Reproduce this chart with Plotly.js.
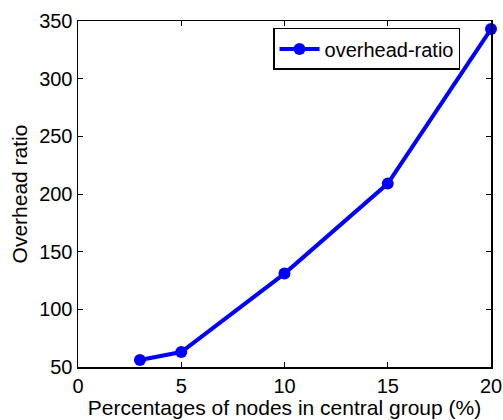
<!DOCTYPE html>
<html>
<head>
<meta charset="utf-8">
<script src="https://cdn.plot.ly/plotly-3.0.1.min.js"></script>
<style>html,body{margin:0;padding:0;background:#fff}#chart{width:503px;height:420px}</style>
</head>
<body>
<div id="chart"></div>
<script>
var xValues = [3, 5, 10, 15, 20];
var overheadRatio = [56, 63, 131, 209, 343];
var xTicks = [0, 5, 10, 15, 20];
var yTicks = [50, 100, 150, 200, 250, 300, 350];

var font = "Liberation Sans, Arial, sans-serif";
var trace = {
  x: xValues, y: overheadRatio, type: 'scatter', mode: 'lines+markers',
  name: 'overhead-ratio',
  line: {color: '#0000ff', width: 4},
  marker: {color: '#0000ff', size: 12, symbol: 'circle'},
  cliponaxis: false
};
var axisCommon = {
  showline: true, linecolor: '#000', linewidth: 1.5, mirror: 'ticks',
  ticks: 'inside', ticklen: 5, tickcolor: '#000', tickwidth: 1,
  showgrid: false, zeroline: false,
  tickfont: {family: font, size: 20, color: '#000'}
};
var layout = {
  width: 503, height: 420,
  margin: {l: 78, r: 12, t: 21, b: 53},
  paper_bgcolor: '#fff', plot_bgcolor: '#fff',
  font: {family: font, color: '#000'},
  xaxis: Object.assign({}, axisCommon, {
    range: [0, 20], tickvals: xTicks, ticktext: xTicks.map(String),
    title: {text: 'Percentages of nodes in central group (%)', font: {family: font, size: 21, color: '#000'}, standoff: 2}
  }),
  yaxis: Object.assign({}, axisCommon, {
    range: [50, 350], tickvals: yTicks, ticktext: yTicks.map(String),
    title: {text: 'Overhead ratio', font: {family: font, size: 21, color: '#000'}, standoff: 6}
  }),
  showlegend: true,
  legend: {
    x: 0.925, y: 0.98, xanchor: 'right', yanchor: 'top',
    bgcolor: '#fff', bordercolor: '#000', borderwidth: 1.5,
    font: {family: font, size: 20, color: '#000'},
    itemwidth: 40
  }
};
Plotly.newPlot('chart', [trace], layout, {displayModeBar: false, staticPlot: true});
</script>
</body>
</html>
